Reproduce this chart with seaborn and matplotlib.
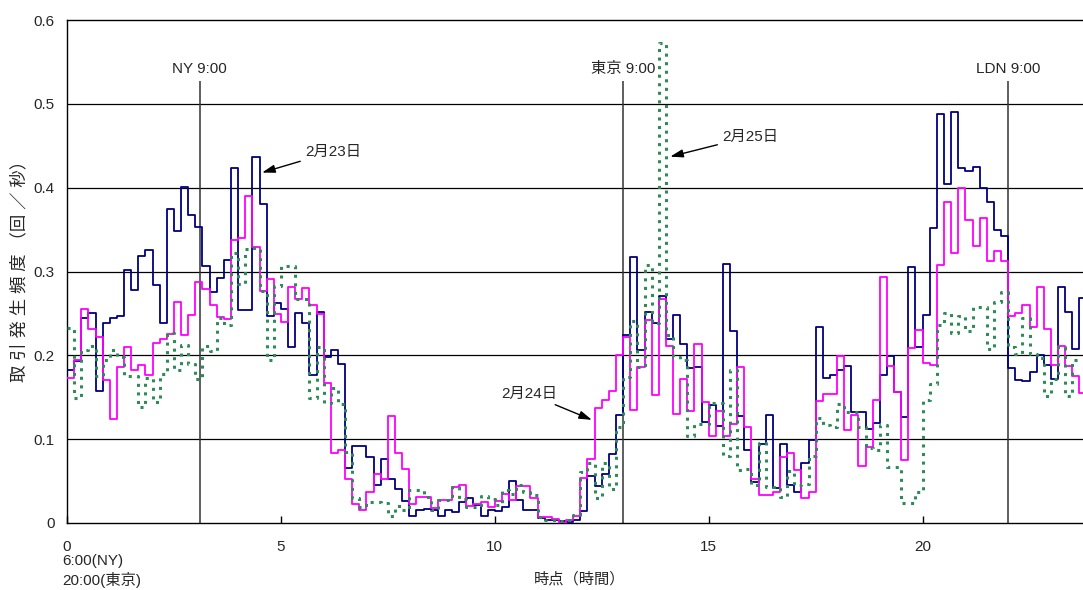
import numpy as np
import pandas as pd
import matplotlib
matplotlib.use("Agg")
import matplotlib.pyplot as plt
import seaborn as sns

# Trade frequency (trades per second) in 10-minute bins, starting 6:00 New York / 20:00 Tokyo
feb23 = [0.183, 0.193, 0.244, 0.250, 0.157, 0.238, 0.244, 0.247, 0.302, 0.278,
         0.319, 0.326, 0.284, 0.238, 0.374, 0.348, 0.401, 0.367, 0.353, 0.306,
         0.275, 0.292, 0.314, 0.423, 0.254, 0.254, 0.436, 0.381, 0.247, 0.263,
         0.255, 0.210, 0.251, 0.238, 0.176, 0.252, 0.198, 0.206, 0.190, 0.066,
         0.092, 0.092, 0.079, 0.045, 0.076, 0.053, 0.041, 0.026, 0.008, 0.015,
         0.017, 0.015, 0.008, 0.015, 0.013, 0.025, 0.030, 0.022, 0.008, 0.016,
         0.014, 0.019, 0.050, 0.028, 0.015, 0.015, 0.006, 0.004, 0.004, 0.002,
         0.001, 0.004, 0.014, 0.056, 0.044, 0.058, 0.082, 0.129, 0.224, 0.317,
         0.206, 0.252, 0.238, 0.271, 0.219, 0.248, 0.213, 0.185, 0.186, 0.121,
         0.141, 0.116, 0.309, 0.229, 0.128, 0.087, 0.049, 0.094, 0.129, 0.042,
         0.094, 0.045, 0.037, 0.071, 0.099, 0.234, 0.173, 0.176, 0.183, 0.187,
         0.132, 0.133, 0.112, 0.119, 0.176, 0.199, 0.156, 0.127, 0.305, 0.210,
         0.248, 0.352, 0.488, 0.404, 0.490, 0.423, 0.420, 0.425, 0.400, 0.383,
         0.350, 0.342, 0.185, 0.171, 0.169, 0.180, 0.200, 0.189, 0.172, 0.282,
         0.252, 0.207, 0.268]

feb24 = [0.173, 0.195, 0.255, 0.231, 0.222, 0.170, 0.124, 0.186, 0.210, 0.183,
         0.189, 0.176, 0.215, 0.219, 0.226, 0.264, 0.224, 0.248, 0.288, 0.279,
         0.260, 0.246, 0.243, 0.337, 0.340, 0.390, 0.329, 0.277, 0.291, 0.249,
         0.240, 0.281, 0.267, 0.280, 0.260, 0.249, 0.167, 0.084, 0.087, 0.053,
         0.023, 0.016, 0.037, 0.059, 0.053, 0.128, 0.084, 0.064, 0.023, 0.031,
         0.031, 0.018, 0.028, 0.028, 0.043, 0.045, 0.020, 0.023, 0.025, 0.019,
         0.026, 0.034, 0.028, 0.044, 0.044, 0.030, 0.007, 0.007, 0.005, 0.000,
         0.004, 0.008, 0.054, 0.076, 0.137, 0.147, 0.157, 0.200, 0.222, 0.135,
         0.186, 0.242, 0.153, 0.267, 0.211, 0.130, 0.172, 0.134, 0.213, 0.144,
         0.104, 0.134, 0.104, 0.118, 0.186, 0.114, 0.052, 0.033, 0.033, 0.037,
         0.079, 0.084, 0.063, 0.030, 0.037, 0.145, 0.154, 0.154, 0.199, 0.111,
         0.129, 0.068, 0.091, 0.147, 0.293, 0.187, 0.156, 0.075, 0.209, 0.230,
         0.191, 0.188, 0.308, 0.383, 0.322, 0.400, 0.361, 0.330, 0.364, 0.313,
         0.325, 0.313, 0.247, 0.251, 0.260, 0.234, 0.281, 0.231, 0.188, 0.211,
         0.187, 0.175, 0.155]

feb25 = [0.233, 0.149, 0.206, 0.211, 0.175, 0.195, 0.206, 0.198, 0.175, 0.175,
         0.138, 0.173, 0.144, 0.178, 0.227, 0.182, 0.212, 0.190, 0.172, 0.211,
         0.205, 0.244, 0.236, 0.322, 0.285, 0.327, 0.328, 0.277, 0.194, 0.283,
         0.307, 0.307, 0.267, 0.267, 0.149, 0.210, 0.143, 0.161, 0.142, 0.085,
         0.030, 0.019, 0.025, 0.025, 0.024, 0.008, 0.020, 0.016, 0.039, 0.039,
         0.031, 0.016, 0.027, 0.027, 0.043, 0.029, 0.019, 0.019, 0.032, 0.029,
         0.022, 0.039, 0.035, 0.045, 0.037, 0.033, 0.007, 0.004, 0.004, 0.002,
         0.004, 0.009, 0.061, 0.072, 0.030, 0.072, 0.041, 0.115, 0.174, 0.241,
         0.186, 0.308, 0.238, 0.572, 0.224, 0.198, 0.194, 0.104, 0.118, 0.118,
         0.143, 0.143, 0.080, 0.183, 0.063, 0.064, 0.045, 0.095, 0.043, 0.043,
         0.031, 0.062, 0.045, 0.047, 0.080, 0.125, 0.117, 0.115, 0.142, 0.132,
         0.132, 0.115, 0.089, 0.087, 0.117, 0.067, 0.067, 0.024, 0.024, 0.037,
         0.147, 0.166, 0.236, 0.251, 0.227, 0.247, 0.229, 0.258, 0.258, 0.207,
         0.264, 0.276, 0.210, 0.202, 0.244, 0.202, 0.197, 0.152, 0.172, 0.210,
         0.152, 0.194, 0.194]

series_names = ["2月23日", "2月24日", "2月25日"]
series_colors = ["#000080", "#FF00FF", "#2E8B57"]

# Market opening markers (hours from start)
open_hours = [3.1, 13.0, 22.0]
open_labels = ["NY 9:00", "東京 9:00", "LDN 9:00"]

x_ticks = [0, 5, 10, 15, 20]
x_tick_labels = ["0", "5", "10", "15", "20"]
y_ticks = [0, 0.1, 0.2, 0.3, 0.4, 0.5, 0.6]
y_tick_labels = ["0", "0.1", "0.2", "0.3", "0.4", "0.5", "0.6"]

sns.set_style("white")
plt.rcParams["font.family"] = ["Liberation Sans", "Noto Sans CJK JP", "DejaVu Sans"]
FS = 11

W, H = 1083, 590
fig = plt.figure(figsize=(W / 100, H / 100), dpi=100)
x0_px, px_per_hour = 67, 42.78
ax = fig.add_axes([x0_px / W, 67 / H, (W - x0_px) / W, 503 / H])


def step_frame(values):
    n = len(values)
    hours = np.arange(n + 1) / 6.0
    return pd.DataFrame({"hour": hours, "freq": list(values) + [values[-1]]})


styles = [
    dict(lw=1.3, ls="-", zorder=3),
    dict(lw=1.3, ls="-", zorder=4),
    dict(lw=2.2, ls=(0, (1, 1.8)), zorder=5),
]
for vals, color, st in zip([feb23, feb24, feb25], series_colors, styles):
    df = step_frame(vals)
    sns.lineplot(data=df, x="hour", y="freq", ax=ax, color=color,
                 drawstyle="steps-post", estimator=None, sort=False,
                 linewidth=st["lw"], linestyle=st["ls"], zorder=st["zorder"])

ax.set_xlim(0, (W - x0_px) / px_per_hour)
ax.set_ylim(0, 0.6)

# horizontal grid lines
for yv in y_ticks[1:-1]:
    ax.axhline(yv, color="black", lw=0.9, zorder=1)

# market-open lines and labels
ax.vlines(open_hours, 0, 0.527, color="#333333", lw=1.1, zorder=2)
for h, lab in zip(open_hours, open_labels):
    ax.text(h, 0.541, lab, ha="center", va="center", fontsize=FS)

# series annotations
arrow = dict(arrowstyle="-|>,head_length=0.7,head_width=0.22", color="black",
             lw=1.0, shrinkA=1, shrinkB=0)
ax.annotate(series_names[0], xy=(4.56, 0.418), xytext=(5.56, 0.443),
            ha="left", va="center", fontsize=FS, arrowprops=arrow)
ax.annotate(series_names[1], xy=(12.27, 0.123), xytext=(10.80, 0.154),
            ha="center", va="center", fontsize=FS, arrowprops=arrow)
ax.annotate(series_names[2], xy=(14.10, 0.437), xytext=(15.31, 0.461),
            ha="left", va="center", fontsize=FS, arrowprops=arrow)

ax.set_xticks(x_ticks)
ax.set_xticklabels(x_tick_labels)
ax.set_yticks(y_ticks)
ax.set_yticklabels(y_tick_labels)
ax.tick_params(axis="x", direction="in", length=5, width=1, pad=12,
               labelsize=FS, color="black", bottom=True)
ax.tick_params(axis="y", direction="out", length=0, pad=9, labelsize=FS)

for side in ["left", "bottom", "top"]:
    ax.spines[side].set_color("black")
    ax.spines[side].set_linewidth(1.0)
ax.spines["right"].set_visible(False)

ax.set_xlabel("時点（時間）", fontsize=FS)
ax.xaxis.set_label_coords((580 - x0_px) / (W - x0_px), -(572 - 523) / 503)
ax.set_ylabel("取 引 発 生 頻 度 （回 ／ 秒）", fontsize=12.5)
ax.yaxis.set_label_coords(-(67 - 27) / (W - x0_px), 0.51)

fig.text(62 / W, 1 - 561 / H, "6:00(NY)", ha="left", va="center", fontsize=FS)
fig.text(62 / W, 1 - 580 / H, "20:00(東京)", ha="left", va="center", fontsize=FS)

fig.savefig("out.png", dpi=100)
